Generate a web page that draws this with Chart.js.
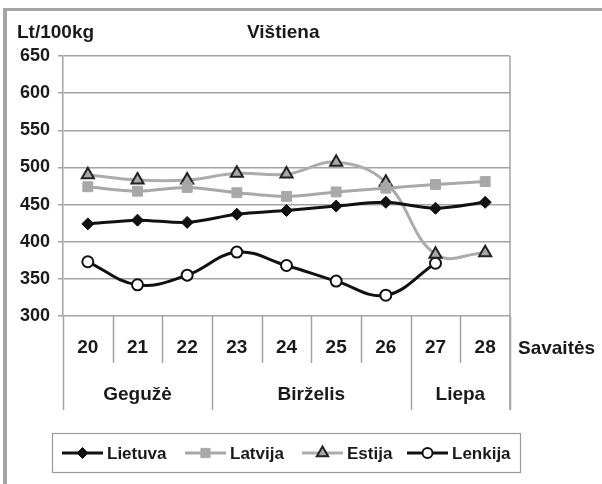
<!DOCTYPE html>
<html>
<head>
<meta charset="utf-8">
<script src="https://cdn.jsdelivr.net/npm/chart.js@4.4.1/dist/chart.umd.min.js"></script>
<style>
    html, body { margin: 0; padding: 0; background: #fff; }
    #wrap { width: 602px; height: 484px; }
</style>
</head>
<body>
<div id="wrap"><canvas id="chart" width="602" height="484"></canvas></div>
<script>
// Chart data
const weeks = ['20', '21', '22', '23', '24', '25', '26', '27', '28'];
const monthNames = ['Gegužė', 'Birželis', 'Liepa'];
const monthSpans = [3, 4, 2];   // how many weeks fall under each month

const lietuva = [424, 429, 426, 437, 442, 448, 453, 445, 453];
const latvija = [474, 468, 473, 466, 461, 467, 472, 477, 481];
const estija  = [490, 483, 483, 492, 491, 507, 480, 383, 385];
const lenkija = [373, 342, 355, 386, 368, 347, 328, 371, null];

const yMin = 300;
const yMax = 650;
const yStep = 50;

const FONT = '"Liberation Sans", Arial, sans-serif';
const TEXT = '#1a1a1a';
const GRID = '#a3a3a3';

// Everything the axes can't do by themselves: frame, group labels, legend
const extras = {
    id: 'extras',
    beforeDraw(chart) {
        const ctx = chart.ctx;
        ctx.save();
        ctx.fillStyle = '#fff';
        ctx.fillRect(0, 0, chart.width, chart.height);
        // outer frame of the figure
        ctx.fillStyle = '#a5a5a5';
        ctx.fillRect(3, 8, 4, chart.height - 8);
        ctx.fillRect(3, 8, chart.width - 3, 3);
        ctx.restore();
    },
    afterDraw(chart) {
        const ctx = chart.ctx;
        const area = chart.chartArea;
        const x = chart.scales.x;
        const bottomShort = 363;
        const bottomLong = 410;

        ctx.save();
        ctx.strokeStyle = GRID;
        ctx.lineWidth = 1.5;

        // right border of the plot area
        ctx.beginPath();
        ctx.moveTo(area.right, area.top);
        ctx.lineTo(area.right, bottomLong);
        ctx.stroke();

        // separators between weeks, longer ones between months
        const longAt = [-0.5];
        let acc = -0.5;
        monthSpans.forEach(n => { acc += n; longAt.push(acc); });
        for (let i = 0; i <= weeks.length; i++) {
            const v = i - 0.5;
            const px = Math.round(x.getPixelForValue(v)) + 0.5;
            ctx.beginPath();
            ctx.moveTo(px, area.bottom);
            ctx.lineTo(px, longAt.includes(v) ? bottomLong : bottomShort);
            ctx.stroke();
        }

        // month labels centred on their weeks
        ctx.fillStyle = TEXT;
        ctx.font = 'bold 19px ' + FONT;
        ctx.textAlign = 'center';
        ctx.textBaseline = 'middle';
        let start = 0;
        monthNames.forEach((name, k) => {
            const a = x.getPixelForValue(start - 0.5);
            const b = x.getPixelForValue(start + monthSpans[k] - 0.5);
            ctx.fillText(name, (a + b) / 2, 395);
            start += monthSpans[k];
        });

        // axis title to the right of the week labels
        ctx.textAlign = 'left';
        ctx.fillText('Savaitės', 518, 349);

        // titles
        ctx.textBaseline = 'alphabetic';
        ctx.fillText('Lt/100kg', 17, 38);
        ctx.fillText('Vištiena', 247, 38);

        // legend
        ctx.strokeStyle = '#9a9a9a';
        ctx.lineWidth = 1.2;
        ctx.strokeRect(52.5, 433.5, 468, 39);
        const itemX = [62, 185, 302, 407];
        const ly = 453;
        ctx.font = 'bold 17px ' + FONT;
        ctx.textBaseline = 'middle';
        chart.data.datasets.forEach((ds, i) => {
            const x0 = itemX[i];
            const x1 = x0 + 41;
            ctx.strokeStyle = ds.borderColor;
            ctx.lineWidth = ds.borderWidth;
            ctx.beginPath();
            ctx.moveTo(x0, ly);
            ctx.lineTo(x1, ly);
            ctx.stroke();
            ctx.fillStyle = ds.pointBackgroundColor;
            ctx.strokeStyle = ds.pointBorderColor;
            ctx.lineWidth = ds.pointBorderWidth;
            Chart.helpers.drawPoint(ctx, {
                pointStyle: ds.pointStyle,
                radius: ds.pointRadius - 0.5,
                rotation: 0,
                borderWidth: ds.pointBorderWidth
            }, (x0 + x1) / 2, ly);
            ctx.fillStyle = TEXT;
            ctx.fillText(ds.label, x1 + 4, ly + 1);
        });
        ctx.restore();
    }
};

new Chart(document.getElementById('chart'), {
    type: 'line',
    data: {
        labels: weeks,
        datasets: [{
            label: 'Lietuva',
            data: lietuva,
            borderColor: '#111',
            borderWidth: 3,
            pointStyle: 'rectRot',
            pointRadius: 6,
            pointBackgroundColor: '#111',
            pointBorderColor: '#111',
            pointBorderWidth: 1,
            tension: 0.3
        }, {
            label: 'Latvija',
            data: latvija,
            borderColor: '#a8a8a8',
            borderWidth: 3,
            pointStyle: 'rect',
            pointRadius: 7,
            pointBackgroundColor: '#a8a8a8',
            pointBorderColor: '#a8a8a8',
            pointBorderWidth: 1,
            tension: 0.3
        }, {
            label: 'Estija',
            data: estija,
            borderColor: '#acacac',
            borderWidth: 3,
            pointStyle: 'triangle',
            pointRadius: 7,
            pointBackgroundColor: '#a8a8a8',
            pointBorderColor: '#222',
            pointBorderWidth: 2,
            tension: 0.4
        }, {
            label: 'Lenkija',
            data: lenkija,
            borderColor: '#111',
            borderWidth: 3,
            pointStyle: 'circle',
            pointRadius: 5.5,
            pointBackgroundColor: '#fff',
            pointBorderColor: '#111',
            pointBorderWidth: 2,
            tension: 0.4
        }]
    },
    options: {
        responsive: false,
        animation: false,
        layout: { padding: { top: 56, right: 92, left: 0, bottom: 0 } },
        plugins: {
            legend: { display: false },
            tooltip: { enabled: false }
        },
        scales: {
            x: {
                offset: true,
                grid: { display: false, drawTicks: false },
                border: { display: false },
                ticks: {
                    color: TEXT,
                    font: { family: FONT, size: 19, weight: 'bold' },
                    padding: 20,
                    maxRotation: 0
                },
                afterFit: s => { s.height = 168; }
            },
            y: {
                min: yMin,
                max: yMax,
                grid: { color: GRID, lineWidth: 1.5, tickLength: 5 },
                border: { color: GRID, width: 1.5 },
                ticks: {
                    stepSize: yStep,
                    color: TEXT,
                    font: { family: FONT, size: 18, weight: 'bold' },
                    padding: 8
                },
                afterFit: s => { s.width = 63; }
            }
        }
    },
    plugins: [extras]
});
</script>
</body>
</html>
